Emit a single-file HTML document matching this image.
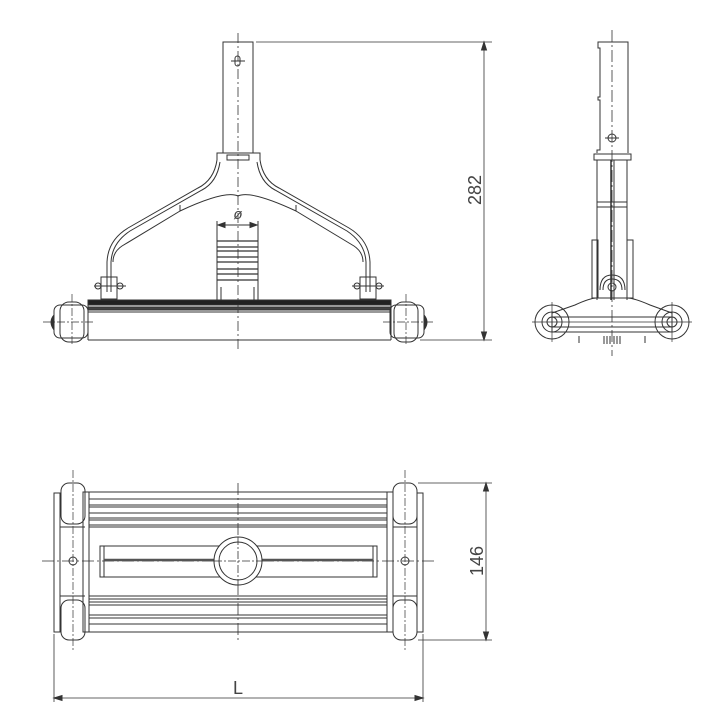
<!DOCTYPE html>
<html><head><meta charset="utf-8"><style>html,body{margin:0;padding:0;background:#fff}svg{display:block}</style></head><body>
<svg width="714" height="712" viewBox="0 0 714 712" xmlns="http://www.w3.org/2000/svg" font-family="Liberation Sans, sans-serif">
<g fill="none" stroke="#333" stroke-width="1">
<line x1="238" y1="33" x2="238" y2="352" stroke-dasharray="10,3,2,3" stroke-width="0.8"/>
<rect x="223" y="42" width="30" height="111"/>
<rect x="235" y="56" width="5" height="10" rx="2.5"/>
<line x1="231" y1="61" x2="245" y2="61"/>
<path d="M217 160 L217 153 L260 153 L260 160"/>
<rect x="227" y="155" width="22" height="5"/>
<path d="M217 160 Q214 180 198 188 L128 228 Q108 240 107 262 L107 292"/>
<path d="M260 160 Q263 180 279 188 L349 228 Q369 240 370 262 L370 292"/>
<path d="M220 162 Q217 182 202 190 L130 231 Q112 243 111 262 L111 292"/>
<path d="M257 162 Q260 182 275 190 L347 231 Q365 243 366 262 L366 292"/>
<path d="M180 205 L180 211 L122 246 Q113 252 113 262"/>
<path d="M296 205 L296 211 L354 246 Q363 252 363 262"/>
<path d="M180 211 Q225 190 238 196 Q251 190 296 211"/>
<line x1="217" y1="221" x2="217" y2="302"/>
<line x1="258" y1="221" x2="258" y2="302"/>
<g stroke-width="1.3">
<line x1="217" y1="241" x2="258" y2="241"/><line x1="217" y1="247" x2="258" y2="247"/>
<line x1="217" y1="251" x2="258" y2="251"/><line x1="217" y1="257" x2="258" y2="257"/>
<line x1="217" y1="262" x2="258" y2="262"/><line x1="217" y1="269" x2="258" y2="269"/>
<line x1="217" y1="274" x2="258" y2="274"/><line x1="217" y1="280" x2="258" y2="280"/>
</g>
<line x1="221" y1="287" x2="221" y2="302"/><line x1="254" y1="287" x2="254" y2="302"/>
<line x1="218" y1="225" x2="257" y2="225"/>
<path d="M218 225 l7 -2.5 v5 z M257 225 l-7 -2.5 v5 z" fill="#333"/>
<rect x="101" y="277" width="16" height="22"/>
<line x1="94" y1="286" x2="126" y2="286"/>
<circle cx="98" cy="286" r="3"/><circle cx="120" cy="286" r="3"/>
<rect x="360" y="277" width="16" height="22"/>
<line x1="352" y1="286" x2="384" y2="286"/>
<circle cx="357" cy="286" r="3"/><circle cx="379" cy="286" r="3"/>
<rect x="88" y="300" width="303" height="5" fill="#222"/>
<rect x="88" y="307" width="303" height="3" fill="#444"/>
<line x1="88" y1="312" x2="391" y2="312"/>
<line x1="88" y1="340" x2="391" y2="340"/>
<line x1="88" y1="300" x2="88" y2="340"/><line x1="391" y1="300" x2="391" y2="340"/>
<rect x="54" y="305" width="34" height="33" rx="6"/>
<rect x="60" y="302" width="24" height="40" rx="9"/>
<path d="M54 315 Q48 322 54 330" fill="#333"/>
<line x1="43" y1="322" x2="95" y2="322" stroke-dasharray="8,2,2,2" stroke-width="0.7"/>
<line x1="72" y1="294" x2="72" y2="346" stroke-dasharray="8,2,2,2" stroke-width="0.7"/>
<rect x="390" y="305" width="34" height="33" rx="6"/>
<rect x="394" y="302" width="24" height="40" rx="9"/>
<path d="M424 315 Q430 322 424 330" fill="#333"/>
<line x1="383" y1="322" x2="435" y2="322" stroke-dasharray="8,2,2,2" stroke-width="0.7"/>
<line x1="406" y1="294" x2="406" y2="346" stroke-dasharray="8,2,2,2" stroke-width="0.7"/>
<line x1="256" y1="42" x2="492" y2="42" stroke-width="0.8"/>
<line x1="420" y1="340" x2="492" y2="340" stroke-width="0.8"/>
<line x1="484" y1="42" x2="484" y2="340" stroke-width="0.8"/>
<path d="M484 42 l-2.5 8 h5 z M484 340 l-2.5 -8 h5 z" fill="#333"/>

<line x1="612" y1="30" x2="612" y2="356" stroke-dasharray="12,3,2,3" stroke-width="0.8"/>
<path d="M597 153 L597 150 L600 150 L600 100 L598 100 L598 97 L600 97 L600 48 L598 48 L598 42 L628 42 L628 153"/>
<circle cx="612" cy="138" r="4"/><line x1="605" y1="138" x2="619" y2="138"/>
<rect x="594" y="154" width="37" height="6"/>
<line x1="597" y1="160" x2="597" y2="300"/><line x1="627" y1="160" x2="627" y2="300"/>
<line x1="611" y1="160" x2="611" y2="300" stroke-width="1.5"/><line x1="614" y1="160" x2="614" y2="300"/>
<line x1="597" y1="202" x2="627" y2="202"/><line x1="597" y1="207" x2="627" y2="207"/>
<rect x="592" y="240" width="6" height="58"/><rect x="627" y="240" width="6" height="58"/>
<path d="M600 290 Q600 275 612 275 Q625 275 625 290"/>
<path d="M603 290 Q603 279 612 279 Q622 279 622 290"/>
<circle cx="612" cy="287" r="4"/>
<path d="M575 305 Q590 298 597 298 L627 298 Q634 298 650 305 L672 313 L672 332 L552 332 L552 313 Z"/>
<circle cx="552" cy="322" r="17"/><circle cx="552" cy="322" r="10"/><circle cx="552" cy="322" r="5"/>
<circle cx="672" cy="322" r="17"/><circle cx="672" cy="322" r="10"/><circle cx="672" cy="322" r="5"/>
<line x1="552" y1="317" x2="672" y2="317"/><line x1="552" y1="327" x2="672" y2="327"/>
<line x1="532" y1="322" x2="692" y2="322" stroke-width="0.7"/>
<line x1="552" y1="302" x2="552" y2="342" stroke-width="0.7"/><line x1="672" y1="302" x2="672" y2="342" stroke-width="0.7"/>
<path d="M579 336 v7 M645 336 v7 M604 336 v8 M607 336 v8 M610 336 v8 M614 336 v8 M617 336 v8 M620 336 v8"/>

<line x1="238" y1="483" x2="238" y2="640" stroke-dasharray="12,3,2,3" stroke-width="0.8"/>
<line x1="42" y1="561" x2="435" y2="561" stroke-dasharray="12,3,2,3" stroke-width="0.8"/>
<rect x="89" y="492" width="298" height="140"/>
<g stroke-width="0.9">
<line x1="89" y1="499" x2="387" y2="499"/><line x1="89" y1="505" x2="387" y2="505"/>
<line x1="89" y1="507" x2="387" y2="507"/><line x1="89" y1="513" x2="387" y2="513"/>
<line x1="89" y1="518" x2="387" y2="518"/><line x1="89" y1="520" x2="387" y2="520"/>
<line x1="89" y1="525" x2="387" y2="525"/><line x1="89" y1="527" x2="387" y2="527"/>
<line x1="89" y1="596" x2="387" y2="596"/><line x1="89" y1="599" x2="387" y2="599"/>
<line x1="89" y1="602" x2="387" y2="602"/><line x1="89" y1="605" x2="387" y2="605"/>
<line x1="89" y1="615" x2="387" y2="615"/><line x1="89" y1="618" x2="387" y2="618"/>
<line x1="89" y1="624" x2="387" y2="624"/>
</g>
<rect x="100" y="546" width="277" height="31"/>
<line x1="104" y1="546" x2="104" y2="577"/><line x1="373" y1="546" x2="373" y2="577"/>
<line x1="104" y1="560" x2="373" y2="560" stroke-width="2.5" stroke="#555"/>
<circle cx="238" cy="561" r="24" fill="#fff"/><circle cx="238" cy="561" r="19"/>
<line x1="238" y1="537" x2="238" y2="585" stroke-dasharray="8,2,2,2" stroke-width="0.8"/>
<line x1="214" y1="561" x2="262" y2="561" stroke-dasharray="8,2,2,2" stroke-width="0.8"/>
<rect x="83" y="492" width="6" height="140"/><rect x="387" y="492" width="6" height="140"/>
<rect x="54" y="493" width="6" height="139"/><rect x="417" y="493" width="6" height="139"/>
<line x1="60" y1="527" x2="85" y2="527"/><line x1="60" y1="596" x2="85" y2="596"/>
<line x1="393" y1="527" x2="417" y2="527"/><line x1="393" y1="596" x2="417" y2="596"/>
<rect x="61" y="483" width="24" height="41" rx="8"/><rect x="61" y="600" width="24" height="40" rx="8"/>
<rect x="393" y="483" width="24" height="41" rx="8"/><rect x="393" y="600" width="24" height="40" rx="8"/>
<circle cx="73" cy="561" r="4"/><circle cx="405" cy="561" r="4"/>
<line x1="73" y1="470" x2="73" y2="650" stroke-dasharray="8,2,2,2" stroke-width="0.7"/>
<line x1="405" y1="470" x2="405" y2="650" stroke-dasharray="8,2,2,2" stroke-width="0.7"/>
<line x1="418" y1="483" x2="492" y2="483" stroke-width="0.8"/>
<line x1="418" y1="640" x2="492" y2="640" stroke-width="0.8"/>
<line x1="486" y1="483" x2="486" y2="640" stroke-width="0.8"/>
<path d="M486 483 l-2.5 8 h5 z M486 640 l-2.5 -8 h5 z" fill="#333"/>
<line x1="54" y1="634" x2="54" y2="702" stroke-width="0.8"/>
<line x1="423" y1="634" x2="423" y2="702" stroke-width="0.8"/>
<line x1="54" y1="698" x2="423" y2="698" stroke-width="0.8"/>
<path d="M54 698 l8 -2.5 v5 z M423 698 l-8 -2.5 v5 z" fill="#333"/>
</g>
<g fill="#444" font-size="18">
<text x="238" y="219" text-anchor="middle" font-size="15" font-style="italic">ø</text>
<text transform="translate(481,190) rotate(-90)" text-anchor="middle">282</text>
<text transform="translate(483,561) rotate(-90)" text-anchor="middle">146</text>
<text x="238" y="694" text-anchor="middle">L</text>
</g>
</svg>
</body></html>
